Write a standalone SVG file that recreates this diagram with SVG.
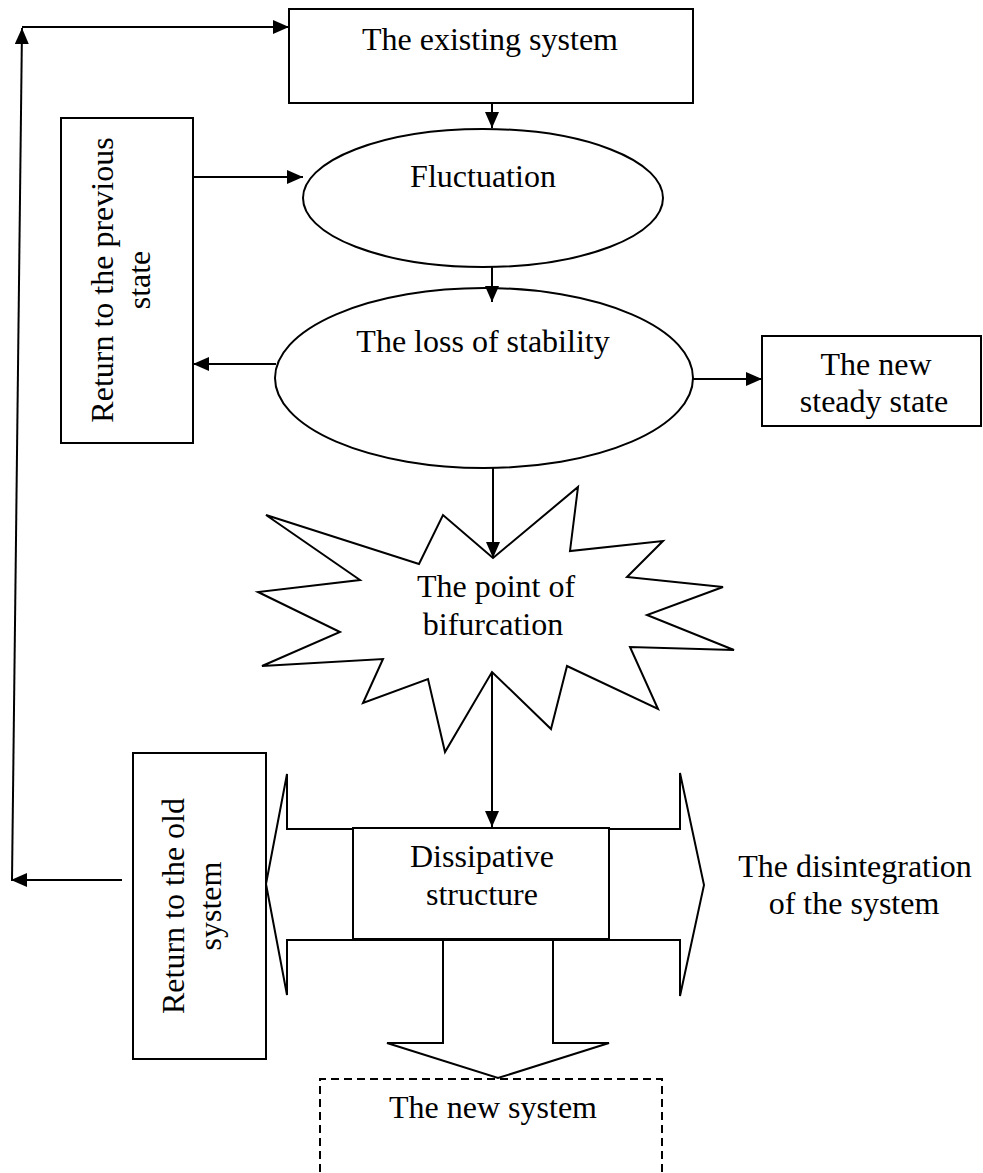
<svg xmlns="http://www.w3.org/2000/svg" width="983" height="1173" viewBox="0 0 983 1173">
<style>
.s{fill:#fff;stroke:#000;stroke-width:2}
.t{font-family:'Liberation Serif','Tinos','DejaVu Serif',serif;font-size:32px;fill:#000;text-anchor:middle}
.c{fill:none;stroke:#000;stroke-width:2}
</style>
<defs>
<marker id="ah" viewBox="0 0 16 14" refX="16" refY="7" markerWidth="16" markerHeight="14" markerUnits="userSpaceOnUse" orient="auto">
<path d="M0,0 L16,7 L0,14 z" fill="#000"/>
</marker>
</defs>
<rect width="983" height="1173" fill="#fff"/>
<g id="existing">
<rect class="s" x="289" y="9" width="404" height="94"/>
<text class="t" x="490" y="50">The existing system</text>
</g>
<g id="fluctuation">
<ellipse class="s" cx="483" cy="198" rx="180" ry="69"/>
<text class="t" x="483" y="187">Fluctuation</text>
</g>
<g id="loss">
<ellipse class="s" cx="484" cy="378" rx="209" ry="90"/>
<text class="t" x="483" y="352">The loss of stability</text>
</g>
<g id="previous">
<rect class="s" x="61" y="118" width="132" height="325"/>
<text class="t" transform="translate(113,280) rotate(-90)">Return to the previous</text>
<text class="t" transform="translate(150,280) rotate(-90)">state</text>
</g>
<g id="steady">
<rect class="s" x="762" y="336" width="219" height="90"/>
<text class="t" x="876" y="375">The new</text>
<text class="t" x="874" y="412">steady state</text>
</g>
<g id="bifurcation">
<polygon class="s" points="266,515 419,564 443,515 493,558 578,487 570,551 663,541 627,577 723,587 647,615 734,650 630,647 658,709 567,666 551,729 492,672 445,752 428,679 363,703 383,659 262,666 340,632 258,592 360,580"/>
<text class="t" x="496" y="597">The point of</text>
<text class="t" x="493" y="635">bifurcation</text>
</g>
<g id="disintegration">
<polygon class="s" points="266,884 287,774 287,829 680,829 680,773 704,885 680,996 680,940 287,940 287,995"/>
<text class="t" x="855" y="877">The disintegration</text>
<text class="t" x="854" y="914">of the system</text>
</g>
<g id="newsys-arrow">
<polygon class="s" points="443,940 443,1043 387,1043 498,1078 609,1043 553,1043 553,940"/>
</g>
<g id="dissipative">
<rect class="s" x="353" y="828" width="256" height="111"/>
<text class="t" x="482" y="867">Dissipative</text>
<text class="t" x="482" y="905">structure</text>
</g>
<g id="oldsystem">
<rect class="s" x="133" y="753" width="133" height="306"/>
<text class="t" transform="translate(184,906) rotate(-90)">Return to the old</text>
<text class="t" transform="translate(221,906) rotate(-90)">system</text>
</g>
<g id="newsystem">
<path d="M320,1185 L320,1079 L662,1079 L662,1185" fill="none" stroke="#000" stroke-width="2" stroke-dasharray="8,5"/>
<text class="t" x="493" y="1118">The new system</text>
</g>
<g id="connectors">
<path class="c" d="M12,880 L22,28" marker-end="url(#ah)"/>
<path class="c" d="M22,27 L289,27" marker-end="url(#ah)"/>
<path class="c" d="M122,880 L11,880" marker-end="url(#ah)"/>
<path class="c" d="M492,103 L492,128" marker-end="url(#ah)"/>
<path class="c" d="M193,177 L303,177" marker-end="url(#ah)"/>
<path class="c" d="M492,267 L492,302" marker-end="url(#ah)"/>
<path class="c" d="M276,364 L193,364" marker-end="url(#ah)"/>
<path class="c" d="M693,379 L762,379" marker-end="url(#ah)"/>
<path class="c" d="M493,468 L493,558" marker-end="url(#ah)"/>
<path class="c" d="M492,672 L492,827" marker-end="url(#ah)"/>
</g>
</svg>
